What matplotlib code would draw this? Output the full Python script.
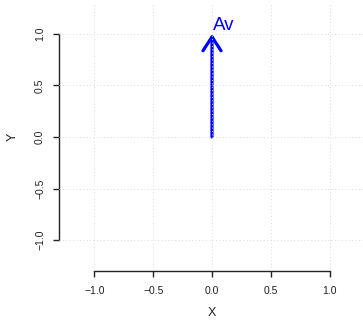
import matplotlib
matplotlib.use("Agg")
import matplotlib.pyplot as plt

plt.rcParams['font.family'] = ['Liberation Sans', 'DejaVu Sans']

# data
vec_start = [0.0, 0.0]
vec_end = [0.0, 1.0]
vec_label = "Av"
ticks = [-1.0, -0.5, 0.0, 0.5, 1.0]
tick_labels = ["\u22121.0", "\u22120.5", "0.0", "0.5", "1.0"]

W, H = 363, 320
fig = plt.figure(figsize=(W/100, H/100), dpi=100)
ax = fig.add_axes([59/W, 1-271/H, (363-59)/W, (271-3)/H])
ax.set_xlim(-1.302, 1.285)
ax.set_ylim(-1.30, 1.30)

# grid on top of arrow
for t in ticks:
    ax.axvline(t, color="#dadada", lw=0.7, ls=(0, (1, 2.5)), zorder=3)
    ax.axhline(t, color="#dadada", lw=0.7, ls=(0, (1, 2.5)), zorder=3)

ax.annotate("", xy=(vec_end[0], vec_end[1]), xytext=(vec_start[0], vec_start[1]),
            arrowprops=dict(arrowstyle="->,head_length=1.0,head_width=0.65",
                            color="blue", lw=2.3, shrinkA=0, shrinkB=0,
                            mutation_scale=10, capstyle="round", joinstyle="round"),
            zorder=2)
ax.text(vec_end[0] + 0.005, vec_end[1] + 0.04, vec_label, color="blue",
        fontsize=13.5, ha="left", va="baseline", zorder=4)

for s in ["top", "right"]:
    ax.spines[s].set_visible(False)
ax.spines["left"].set_bounds(-1, 1)
ax.spines["bottom"].set_bounds(-1, 1)
for s in ["left", "bottom"]:
    ax.spines[s].set_linewidth(1.0)
    ax.spines[s].set_color("#222222")

ax.set_xticks(ticks)
ax.set_xticklabels(tick_labels)
ax.set_yticks(ticks)
ax.set_yticklabels(tick_labels, rotation=90, va="center")
ax.tick_params(axis="both", direction="out", length=4, width=1.0, color="#222222",
               labelsize=7.5, labelcolor="#222222")
ax.tick_params(axis="x", pad=7)
ax.tick_params(axis="y", pad=6)

fig.text(212/W, 1-313/H, "X", ha="center", va="center", fontsize=9, color="#222222")
fig.text(13/W, 1-137/H, "Y", ha="center", va="center", fontsize=9, rotation=90, color="#222222")

fig.savefig("out.png", dpi=100)
